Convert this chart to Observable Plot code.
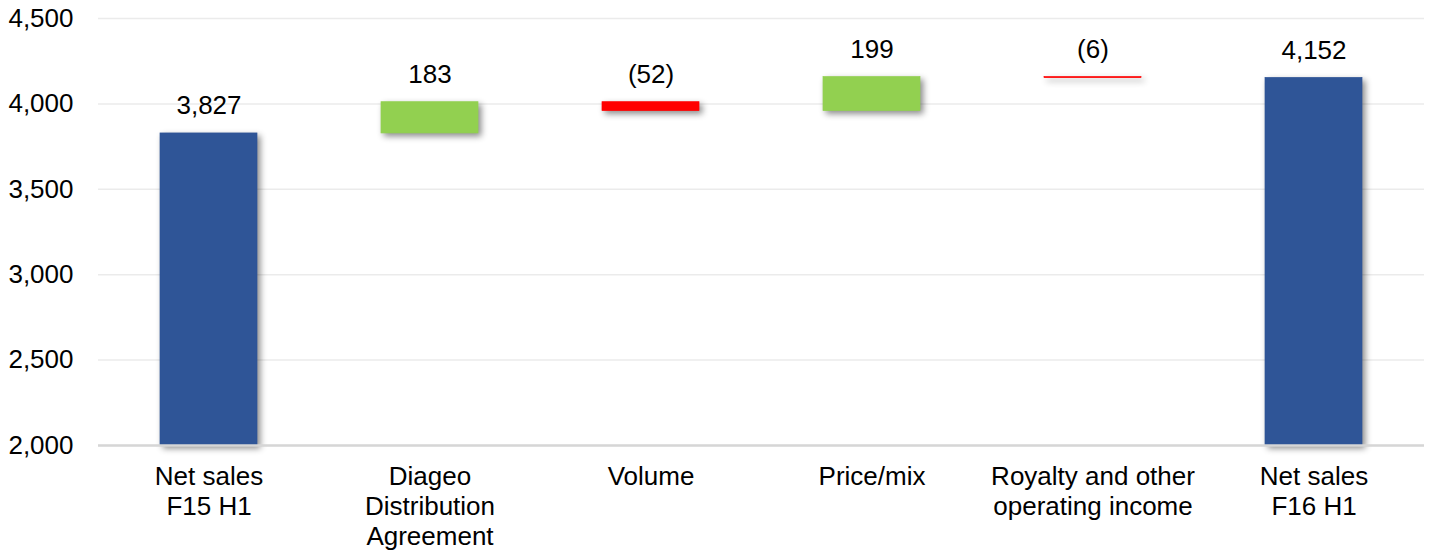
<!DOCTYPE html>
<html><head><meta charset="utf-8">
<script src="https://cdn.jsdelivr.net/npm/d3@7"></script>
<script src="https://cdn.jsdelivr.net/npm/@observablehq/plot@0.6"></script>
<style>
html,body{margin:0;padding:0;background:#fff;}
#chart svg{display:block;}
</style></head><body><div id="chart"></div>
<script>
const categories = ["Net sales\nF15 H1", "Diageo\nDistribution\nAgreement", "Volume", "Price/mix", "Royalty and other\noperating income", "Net sales\nF16 H1"];
const values = [3827, 183, -52, 199, -6, 4152];
const kinds = ["total", "delta", "delta", "delta", "delta", "total"];
const yTicks = [2000, 2500, 3000, 3500, 4000, 4500];

let run = 0;
const rows = categories.map((c, i) => {
  const v = values[i];
  let y1, y2;
  if (kinds[i] === "total") { y1 = 0; y2 = v; run = v; }
  else { y1 = run; y2 = run + v; run = y2; }
  const kind = kinds[i] === "total" ? "total" : (v >= 0 ? "up" : "down");
  const label = v < 0 ? "(" + d3.format(",")(-v) + ")" : d3.format(",")(v);
  return {cat: c, v, kind, y1, y2, top: Math.max(y1, y2), label};
});

const chart = Plot.plot({
  width: 1429,
  height: 556,
  marginLeft: 98,
  marginRight: 5,
  marginTop: 18,
  marginBottom: 111,
  style: {fontFamily: "'Liberation Sans', Arial, sans-serif", fontSize: "26px", color: "#000", background: "#fff", overflow: "visible"},
  x: {domain: categories, paddingInner: 0.56, paddingOuter: 0.28, label: null, axis: null},
  y: {domain: [2000, 4500], clamp: true, label: null, axis: null},
  color: {domain: ["total", "up", "down"], range: ["#2F5597", "#92D050", "#FF0000"]},
  marks: [
    Plot.gridY(yTicks, {stroke: "#ebebeb", strokeOpacity: 1, strokeWidth: 1.5}),
    Plot.barY(rows, {x: "cat", y1: "y1", y2: "y2", fill: "kind", stroke: "kind", strokeWidth: 0.7}),
    Plot.ruleY([2000], {stroke: "#d6d6d6", strokeWidth: 2.5}),
    Plot.text(rows, {x: "cat", y: "top", text: "label", dy: -19, lineAnchor: "bottom", fontSize: 26, fill: "#000"}),
    Plot.axisY(yTicks, {tickSize: 0, tickPadding: 25, tickFormat: d3.format(","), fontSize: 26, fill: "#000", label: null}),
    Plot.axisX({tickSize: 0, tickPadding: 18, fontSize: 26, lineHeight: 1.15, fill: "#000", label: null})
  ]
});
chart.querySelectorAll('g[aria-label="bar"]').forEach(g => {
  g.style.filter = "drop-shadow(3px 3px 3px rgba(0,0,0,0.45))";
});
document.getElementById("chart").appendChild(chart);
</script></body></html>
